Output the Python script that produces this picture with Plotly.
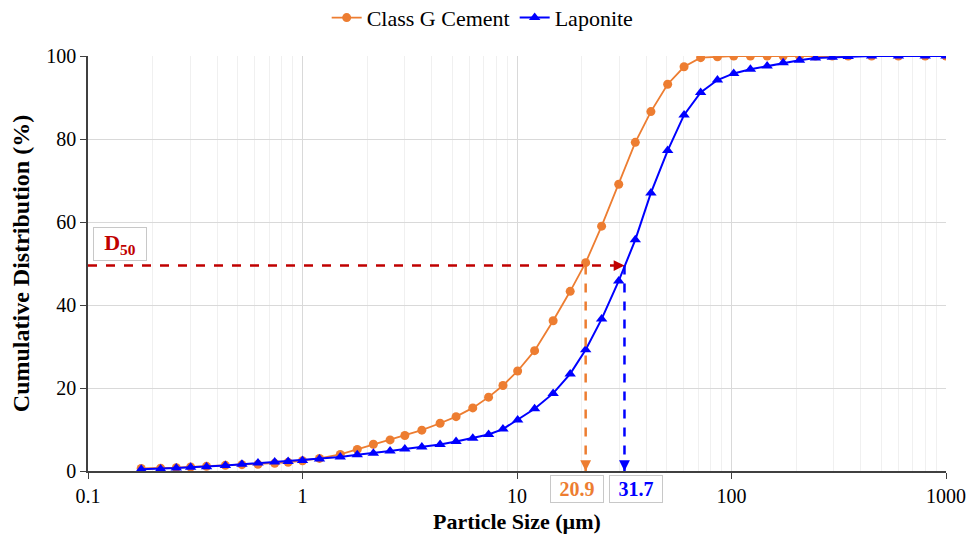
import numpy as np
import plotly.graph_objects as go

# Particle size classes (µm)
sizes = [0.177, 0.218, 0.258, 0.301, 0.357, 0.437, 0.522, 0.620, 0.742, 0.857,
         1.0, 1.2, 1.5, 1.8, 2.14, 2.56, 3.0, 3.6, 4.38, 5.2,
         6.22, 7.37, 8.6, 10.07, 12.08, 14.74, 17.7, 20.9, 24.8, 29.8,
         35.6, 42.1, 50.4, 60.1, 71.8, 86.0, 102.4, 122.5, 146.6, 174.1,
         207.5, 246.4, 295.0, 350.0, 450.0, 600.0, 800.0, 1000.0]

# Cumulative passing (%)
cement = [0.6, 0.65, 0.8, 0.96, 1.12, 1.36, 1.52, 1.6, 1.84, 2.08,
          2.48, 3.04, 4.0, 5.2, 6.45, 7.5, 8.56, 9.84, 11.5, 13.1,
          15.2, 17.8, 20.6, 24.1, 29.0, 36.2, 43.3, 50.2, 59.0, 69.1,
          79.2, 86.6, 93.2, 97.4, 99.6, 99.8, 100, 100, 100, 100,
          100, 100, 100, 100, 100, 100, 100, 100]

laponite = [0.4, 0.5, 0.7, 0.9, 1.05, 1.35, 1.6, 1.9, 2.15, 2.3,
            2.55, 2.9, 3.4, 3.9, 4.3, 4.8, 5.3, 5.8, 6.4, 7.1,
            7.9, 8.8, 10.1, 12.3, 15.0, 18.7, 23.4, 29.2, 36.6, 45.8,
            55.7, 67.0, 77.2, 85.8, 91.2, 94.2, 95.8, 96.8, 97.6, 98.4,
            99.0, 99.5, 99.7, 99.9, 100, 100, 100, 100]

# Median sizes (µm) and the median level (%)
d50_cement = 20.9
d50_laponite = 31.7
d50_level = 49.5

ORANGE = "#ed7d31"
BLUE = "#0000ff"
RED = "#c00000"
FONT = "Liberation Serif"

fig = go.Figure()

fig.add_trace(go.Scatter(x=sizes, y=cement, mode="lines+markers", name="Class G Cement",
                         line=dict(color=ORANGE, width=1.8),
                         marker=dict(symbol="circle", size=9, color=ORANGE)))
fig.add_trace(go.Scatter(x=sizes, y=laponite, mode="lines+markers", name="Laponite",
                         line=dict(color=BLUE, width=2),
                         marker=dict(symbol="triangle-up", size=10, color=BLUE)))


def guide(xs, ys, color, ax, ay):
    # dashed guide line, finished with a solid arrow head at its end point
    fig.add_trace(go.Scatter(x=xs, y=ys, mode="lines",
                             line=dict(color=color, width=2.5, dash="dash"),
                             showlegend=False, hoverinfo="skip"))
    fig.add_annotation(x=np.log10(xs[-1]), y=ys[-1], xref="x", yref="y", text="",
                       showarrow=True, arrowhead=2, arrowsize=0.9, arrowwidth=2.4,
                       arrowcolor=color, ax=ax, ay=ay)


guide([0.1, d50_laponite], [d50_level, d50_level], RED, -10, 0)
guide([d50_cement, d50_cement], [d50_level, 0], ORANGE, 0, -10)
guide([d50_laponite, d50_laponite], [d50_level, 0], BLUE, 0, -10)

# D50 tag
fig.add_annotation(x=0.0373, y=54.6, xref="paper", yref="y", text="<b>D<sub>50</sub></b>",
                   showarrow=False, font=dict(family=FONT, size=22, color=RED),
                   bordercolor="#c8c8c8", borderwidth=1, width=50, height=30,
                   bgcolor="white", xanchor="center", yanchor="middle")

# Value tags below the axis
fig.add_annotation(x=np.log10(d50_cement), y=0, xref="x", yref="y", text="<b>20.9</b>",
                   showarrow=False, font=dict(family=FONT, size=20, color=ORANGE),
                   bordercolor="#c8c8c8", borderwidth=1, width=50, height=24,
                   bgcolor="white", xanchor="center", yanchor="top", xshift=-9, yshift=-4)
fig.add_annotation(x=np.log10(d50_laponite), y=0, xref="x", yref="y", text="<b>31.7</b>",
                   showarrow=False, font=dict(family=FONT, size=20, color=BLUE),
                   bordercolor="#c8c8c8", borderwidth=1, width=50, height=24,
                   bgcolor="white", xanchor="center", yanchor="top", xshift=11.5, yshift=-4)

fig.update_layout(
    width=969, height=538,
    margin=dict(l=88, r=23, t=56, b=67, autoexpand=False),
    paper_bgcolor="white", plot_bgcolor="white",
    font=dict(family=FONT, size=20, color="black"),
    showlegend=True,
    legend=dict(orientation="h", x=0.46, xanchor="center", y=1.092, yanchor="middle",
                font=dict(family=FONT, size=22, color="black"), itemwidth=30,
                bgcolor="rgba(0,0,0,0)"),
)

fig.update_xaxes(
    type="log", range=[-1, 3], automargin=False,
    tickvals=[0.1, 1, 10, 100, 1000], ticktext=["0.1", "1", "10", "100", "1000"],
    showline=True, linecolor="#404040", linewidth=1.5,
    ticks="outside", ticklen=6, tickcolor="#404040",
    showgrid=True, gridcolor="#d9d9d9", gridwidth=1,
    minor=dict(dtick="D1", showgrid=True, gridcolor="#f0f0f0", gridwidth=1, ticks=""),
    tickfont=dict(family=FONT, size=20, color="black"),
    title=dict(text="<b>Particle Size (µm)</b>", font=dict(family=FONT, size=22), standoff=8),
    zeroline=False,
)
fig.update_yaxes(
    range=[0, 100], dtick=20, automargin=False,
    showline=True, linecolor="#404040", linewidth=1.5,
    ticks="outside", ticklen=6, tickcolor="#404040",
    showgrid=True, gridcolor="#d9d9d9", gridwidth=1,
    tickfont=dict(family=FONT, size=20, color="black"),
    title=dict(text="<b>Cumulative Distribution (%)</b>", font=dict(family=FONT, size=24), standoff=10),
    zeroline=False,
)

fig.write_html("out.html")
